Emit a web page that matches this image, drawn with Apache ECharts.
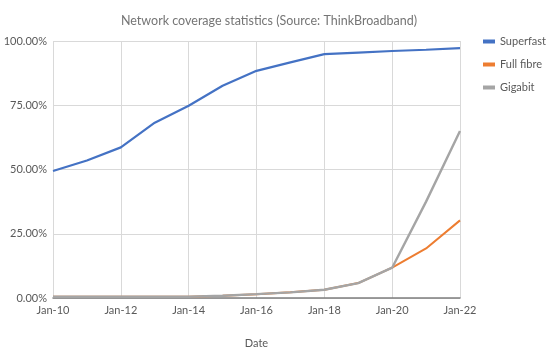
<!DOCTYPE html>
<html><head><meta charset="utf-8">
<script src="https://cdn.jsdelivr.net/npm/echarts@6/dist/echarts.min.js"></script>
<style>html,body{margin:0;padding:0;background:#fff}#c{width:548px;height:354px}</style>
</head><body><div id="c"></div>
<script>
const categories = ['Jan-10','Jan-11','Jan-12','Jan-13','Jan-14','Jan-15','Jan-16','Jan-17','Jan-18','Jan-19','Jan-20','Jan-21','Jan-22'];
const superfast = [49.4, 53.5, 58.6, 68.2, 74.8, 82.6, 88.4, 91.7, 94.9, 95.5, 96.1, 96.6, 97.2];
const fullFibre = [0.5, 0.5, 0.5, 0.5, 0.5, 0.9, 1.5, 2.2, 3.2, 5.8, 11.8, 19.3, 30.2];
const gigabit = [0.5, 0.5, 0.5, 0.5, 0.5, 0.9, 1.5, 2.2, 3.2, 5.8, 11.8, 37.5, 65.0];
const yTicks = [0, 25, 50, 75, 100];
const FONT = 'Lato';
const chart = echarts.init(document.getElementById('c'));
const mk = (name, data, color, z, w) => ({name, type:'line', data, symbol:'none', z,
  lineStyle:{color, width:w}, itemStyle:{color}});
chart.setOption({
  animation:false,
  title:{text:'Network coverage statistics (Source: ThinkBroadband)', left:264, top:9, textAlign:'center',
    textStyle:{fontFamily:FONT, fontSize:12.5, fontWeight:'normal', color:'#757575'}},
  legend:{orient:'vertical', left:478, top:31, itemGap:12, itemWidth:12, itemHeight:4, icon:'rect',
    textStyle:{fontFamily:FONT, fontSize:11, color:'#595959'},
    data:['Superfast','Full fibre','Gigabit']},
  grid:{left:53, right:88, top:41, bottom:54},
  xAxis:{type:'category', data:categories, boundaryGap:false,
    name:'Date', nameLocation:'middle', nameGap:40,
    nameTextStyle:{fontFamily:FONT, fontSize:11, color:'#595959'},
    axisLine:{lineStyle:{color:'#7f7f7f', width:1.5}}, axisTick:{show:false},
    axisLabel:{interval:1, fontFamily:FONT, fontSize:11, color:'#595959', margin:7},
    splitLine:{show:true, interval:1, lineStyle:{color:'#d9d9d9'}}},
  yAxis:{type:'value', min:yTicks[0], max:yTicks[yTicks.length-1], interval:25,
    axisLine:{show:false}, axisTick:{show:false},
    axisLabel:{fontFamily:FONT, fontSize:11, color:'#595959', margin:6, formatter:v=>v.toFixed(2)+'%'},
    splitLine:{lineStyle:{color:'#d9d9d9'}}},
  series:[mk('Superfast', superfast, '#4472c4', 3, 2.2), mk('Full fibre', fullFibre, '#ed7d31', 2, 2), mk('Gigabit', gigabit, '#a5a5a5', 4, 2.4)]
});
</script></body></html>
